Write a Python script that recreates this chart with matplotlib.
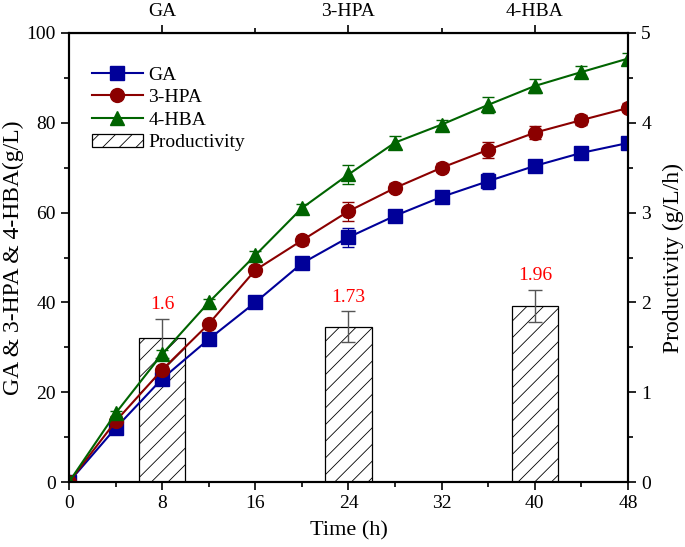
import numpy as np
import matplotlib.pyplot as plt
from matplotlib.ticker import MultipleLocator, FixedLocator
from matplotlib.lines import Line2D

plt.rcParams['font.family'] = ['Liberation Serif', 'DejaVu Serif']
plt.rcParams['hatch.linewidth'] = 0.6

# data
time = [0, 4, 8, 12, 16, 20, 24, 28, 32, 36, 40, 44, 48]
ga = [0, 12.0, 23.0, 31.8, 40.0, 48.7, 54.5, 59.3, 63.5, 67.0, 70.4, 73.3, 75.5]
ga_err = [0.3, 0.6, 0.8, 0.8, 0.9, 1.0, 2.1, 1.0, 1.0, 1.8, 1.3, 1.1, 1.0]
hpa = [0, 13.5, 25.0, 35.2, 47.2, 53.8, 60.3, 65.5, 70.0, 74.0, 77.8, 80.6, 83.3]
hpa_err = [0.3, 0.6, 0.8, 0.8, 0.9, 1.0, 2.1, 1.0, 1.0, 1.8, 1.5, 1.2, 1.0]
hba = [0, 15.3, 28.5, 40.0, 50.5, 61.0, 68.5, 75.6, 79.6, 84.0, 88.2, 91.3, 94.3]
hba_err = [0.3, 0.6, 0.8, 0.8, 0.9, 1.0, 2.2, 1.4, 1.0, 1.8, 1.5, 1.3, 1.3]

bar_x = [8, 24, 40]
productivity = [1.6, 1.73, 1.96]
prod_err = [0.22, 0.17, 0.18]
top_labels = ['GA', '3-HPA', '4-HBA']

fig = plt.figure(figsize=(6.85, 5.47), dpi=100)
ax1 = fig.add_axes([0.1007, 0.1188, 0.8161, 0.8209])
ax2 = ax1.twinx()
ax1.set_zorder(ax2.get_zorder() + 1)
ax1.patch.set_visible(False)

# bars on the right axis
bars = ax2.bar(bar_x, productivity, width=4, facecolor='white', edgecolor='black',
               hatch='//', linewidth=0.9, label='Productivity')
ax2.errorbar(bar_x, productivity, yerr=prod_err, fmt='none', ecolor='#555555',
             elinewidth=1, capsize=5)
for x, v, e in zip(bar_x, productivity, prod_err):
    ax2.text(x, v + e + 0.06, f'{v:g}', color='red', ha='center', va='bottom', fontsize=14)

series = [
    (ga, ga_err, 'GA', '#000099', 's'),
    (hpa, hpa_err, '3-HPA', '#8B0000', 'o'),
    (hba, hba_err, '4-HBA', '#006400', '^'),
]
handles = []
for vals, errs, name, col, mk in series:
    ax1.errorbar(time, vals, yerr=errs, color=col, marker=mk, markersize=10,
                 linewidth=1.5, elinewidth=0.8, capsize=4, ecolor=col)
    handles.append(Line2D([], [], color=col, marker=mk, markersize=10,
                          linewidth=1.5, label=name))
handles.append(bars)

ax1.set_xlim(0, 48)
ax1.set_ylim(0, 100)
ax2.set_ylim(0, 5)
ax1.xaxis.set_major_locator(MultipleLocator(8))
ax1.xaxis.set_minor_locator(MultipleLocator(4))
ax1.yaxis.set_major_locator(MultipleLocator(20))
ax1.yaxis.set_minor_locator(MultipleLocator(10))
ax2.yaxis.set_major_locator(MultipleLocator(1))
ax2.yaxis.set_minor_locator(MultipleLocator(0.5))

for ax in (ax1, ax2):
    ax.tick_params(which='major', direction='out', length=6, width=1.2, labelsize=14)
    ax.tick_params(which='minor', direction='out', length=3.5, width=1.2)
    for sp in ax.spines.values():
        sp.set_linewidth(1.5)

top = ax1.secondary_xaxis('top')
top.xaxis.set_major_locator(FixedLocator(bar_x))
top.set_xticklabels(top_labels)
top.xaxis.set_minor_locator(FixedLocator([16, 32]))
top.tick_params(which='major', direction='out', length=6, width=1.2, labelsize=14)
top.tick_params(which='minor', direction='out', length=3.5, width=1.2)

ax1.set_xlabel('Time (h)', fontsize=16)
ax1.set_ylabel('GA & 3-HPA & 4-HBA(g/L)', fontsize=17)
ax2.set_ylabel('Productivity (g/L/h)', fontsize=17)
ax1.xaxis.set_label_coords(0.5, -0.088)
ax1.yaxis.set_label_coords(-0.08, 0.5)
ax2.yaxis.set_label_coords(1.062, 0.5)

ax1.legend(handles=handles, loc='upper left', bbox_to_anchor=(0.01, 0.965),
           frameon=False, fontsize=14, handlelength=2.6, labelspacing=0.25,
           handletextpad=0.3)

fig.savefig('out.png', dpi=100)
